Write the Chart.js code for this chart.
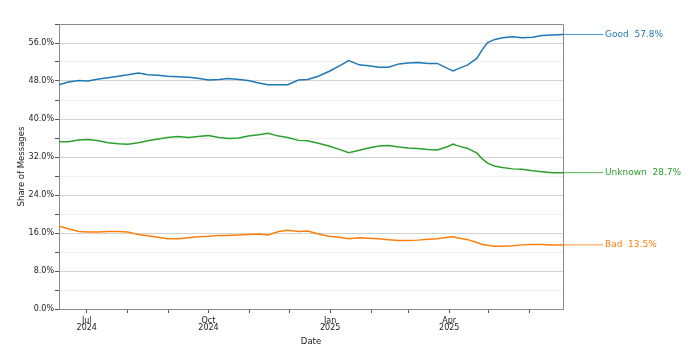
<!DOCTYPE html>
<html>
<head>
<meta charset="utf-8">
<script src="https://cdn.jsdelivr.net/npm/chart.js@4/dist/chart.umd.min.js"></script>
<style>
  html, body { margin: 0; padding: 0; background: #ffffff; }
  #wrap { width: 690px; height: 356px; }
</style>
</head>
<body>
<div id="wrap"><canvas id="c" width="690" height="356"></canvas></div>
<script>
// ---- data ----
const dates = [
  "2024-06-10","2024-06-17","2024-06-25","2024-07-02","2024-07-10","2024-07-17","2024-07-25",
  "2024-08-01","2024-08-09","2024-08-16","2024-08-24","2024-08-31","2024-09-08","2024-09-16",
  "2024-09-23","2024-10-01","2024-10-09","2024-10-16","2024-10-24","2024-10-31","2024-11-08",
  "2024-11-15","2024-11-23","2024-11-30","2024-12-08","2024-12-15","2024-12-23","2024-12-31",
  "2025-01-08","2025-01-15","2025-01-23","2025-01-30","2025-02-07","2025-02-14","2025-02-22",
  "2025-03-01","2025-03-08","2025-03-16","2025-03-23","2025-03-31","2025-04-04","2025-04-07",
  "2025-04-15","2025-04-22","2025-04-26","2025-04-30","2025-05-05","2025-05-11","2025-05-19",
  "2025-05-26","2025-06-03","2025-06-10","2025-06-18","2025-06-26"
];
const good = [
  47.2,47.8,48.1,48.0,48.4,48.7,49.0,
  49.3,49.7,49.3,49.2,49.0,48.9,48.8,
  48.6,48.2,48.3,48.5,48.3,48.1,47.6,
  47.2,47.2,47.2,48.2,48.3,49.0,50.0,
  51.2,52.3,51.4,51.2,50.9,50.9,51.6,
  51.8,51.9,51.7,51.7,50.6,50.1,50.5,
  51.4,52.8,54.6,56.1,56.7,57.1,57.3,
  57.1,57.2,57.6,57.7,57.8
];
const unknown = [
  35.2,35.2,35.6,35.7,35.4,35.0,34.8,
  34.7,35.0,35.4,35.8,36.1,36.3,36.1,
  36.3,36.5,36.1,35.9,36.0,36.4,36.7,
  37.0,36.4,36.1,35.5,35.4,34.9,34.3,
  33.6,32.9,33.4,33.9,34.3,34.4,34.1,
  33.9,33.8,33.6,33.5,34.2,34.7,34.4,
  33.8,32.8,31.6,30.7,30.1,29.8,29.5,
  29.4,29.1,28.9,28.7,28.7
];
const bad = [
  17.4,16.9,16.3,16.2,16.2,16.3,16.3,
  16.2,15.7,15.4,15.1,14.8,14.8,15.0,
  15.2,15.3,15.5,15.5,15.6,15.7,15.8,
  15.6,16.3,16.6,16.3,16.4,15.8,15.3,
  15.1,14.8,15.0,14.9,14.8,14.6,14.4,
  14.4,14.5,14.7,14.8,15.1,15.2,15.0,
  14.6,14.0,13.6,13.4,13.2,13.2,13.3,
  13.5,13.6,13.6,13.5,13.5
];
const seriesNames = ["Good", "Unknown", "Bad"];
const majorTickDates = ["2024-07-01","2024-10-01","2025-01-01","2025-04-01"];
const majorTickLabels = [["Jul","2024"],["Oct","2024"],["Jan","2025"],["Apr","2025"]];
const minorTickDates = ["2024-08-01","2024-09-01","2024-11-01","2024-12-01",
                        "2025-02-01","2025-03-01","2025-05-01","2025-06-01"];
const yTickStep = 4;
const yLabelStep = 8;

// ---- helpers ----
const BASE = Date.UTC(2024, 6, 1);
function dayNum(s) {
  const p = s.split("-").map(Number);
  return Math.round((Date.UTC(p[0], p[1] - 1, p[2]) - BASE) / 86400000);
}
const xs = dates.map(dayNum);
const majorDays = majorTickDates.map(dayNum);
const minorDays = minorTickDates.map(dayNum);
const colors = ["#1f77b4", "#2ca02c", "#ff7f0e"];
const values = [good, unknown, bad];

const datasets = values.map((arr, i) => ({
  label: seriesNames[i],
  data: arr.map((v, k) => ({ x: xs[k], y: v })),
  borderColor: colors[i],
  backgroundColor: colors[i],
  borderWidth: 1.5,
  pointRadius: 0,
  tension: 0,
  fill: false
}));

const FONT = "'DejaVu Sans', sans-serif";

const endLabels = {
  id: "endLabels",
  afterDraw(chart) {
    const ctx = chart.ctx;
    const ys = chart.scales.y;
    ctx.save();
    ctx.strokeStyle = "#8a8a8a";
    ctx.lineWidth = 1;
    const a = chart.chartArea;
    ctx.beginPath();
    ctx.moveTo(Math.round(a.left) + 0.5, Math.round(a.top) + 0.5);
    ctx.lineTo(Math.round(a.right) + 0.5, Math.round(a.top) + 0.5);
    ctx.lineTo(Math.round(a.right) + 0.5, Math.round(a.bottom) + 0.5);
    ctx.stroke();
    chart.data.datasets.forEach((ds, i) => {
      const meta = chart.getDatasetMeta(i);
      const last = meta.data[meta.data.length - 1];
      const v = values[i][values[i].length - 1];
      const yy = ys.getPixelForValue(v);
      ctx.strokeStyle = colors[i];
      ctx.lineWidth = 0.8;
      ctx.beginPath();
      ctx.moveTo(last.x, yy);
      ctx.lineTo(a.right + 40, yy);
      ctx.stroke();
      ctx.fillStyle = colors[i];
      ctx.font = "9px " + FONT;
      ctx.textBaseline = "middle";
      ctx.textAlign = "left";
      ctx.fillText(seriesNames[i] + "  " + v.toFixed(1) + "%", a.right + 42, yy);
    });
    ctx.restore();
  }
};

new Chart(document.getElementById("c"), {
  type: "line",
  data: { datasets },
  options: {
    responsive: false,
    animation: false,
    devicePixelRatio: 1,
    layout: { padding: { top: 24, right: 127, left: 0, bottom: 0 } },
    plugins: { legend: { display: false }, tooltip: { enabled: false } },
    scales: {
      x: {
        type: "linear",
        min: xs[0],
        max: xs[xs.length - 1],
        afterBuildTicks(scale) {
          const all = majorDays.concat(minorDays).sort((p, q) => p - q);
          scale.ticks = all.map(v => ({ value: v }));
        },
        afterFit(scale) { scale.height = 47; },
        ticks: {
          autoSkip: false,
          maxRotation: 0,
          padding: 5,
          color: "#222",
          font: { family: FONT, size: 8, lineHeight: 0.85 },
          callback(v) {
            const k = majorDays.indexOf(v);
            return k >= 0 ? majorTickLabels[k] : "";
          }
        },
        grid: {
          drawOnChartArea: false,
          drawTicks: true,
          tickLength: 4,
          tickColor: "#555"
        },
        border: { color: "#8a8a8a", width: 1 },
        title: {
          display: true,
          text: "Date",
          color: "#222",
          font: { family: FONT, size: 8.5 },
          padding: { top: 0, bottom: 9 }
        }
      },
      y: {
        min: 0,
        max: 60,
        afterFit(scale) { scale.width = 59; },
        ticks: {
          stepSize: yTickStep,
          padding: 1,
          color: "#222",
          font: { family: FONT, size: 8 },
          callback(v) { return v % yLabelStep === 0 ? v.toFixed(1) + "%" : ""; }
        },
        grid: {
          color(c) {
            if (!c.tick) return "#ddd";
            return c.tick.value % yLabelStep === 0 ? "#d3d3d3" : "#efefef";
          },
          tickLength: 4,
          tickColor: "#555"
        },
        border: { color: "#8a8a8a", width: 1 },
        title: {
          display: true,
          text: "Share of Messages",
          color: "#222",
          font: { family: FONT, size: 8.5 },
          padding: { top: 17, bottom: 0 }
        }
      }
    }
  },
  plugins: [endLabels]
});
</script>
</body>
</html>
